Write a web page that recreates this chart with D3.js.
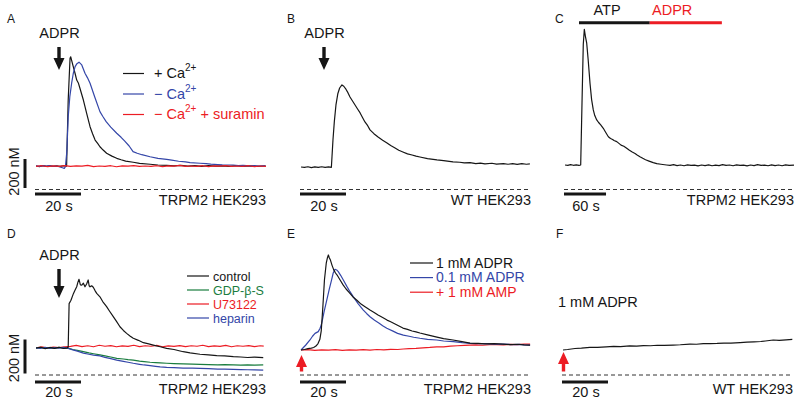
<!DOCTYPE html>
<html>
<head>
<meta charset="utf-8">
<script src="https://cdn.jsdelivr.net/npm/d3@7"></script>
<style>
body{margin:0;background:#fff;}
svg{display:block;font-family:"Liberation Sans",Arial,Helvetica,sans-serif;}
</style>
</head>
<body>
<script>
(function(){

//trace data, [time (s), Ca concentration (nM)]
var traceA_plusCa = [[0,162],[1.5,158],[3,165],[4.5,160],[6,164],[7.5,159],[9,163],[10.5,160],[12,164],[13.3,161],[14.0,617],[14.8,905],[15.1,915],[16.2,847],[17.0,800],[17.7,755],[18.4,735],[19.1,698],[20.6,617],[22.0,526],[23.5,433],[24.6,385],[25.7,341],[26.8,318],[27.8,295],[29.2,272],[30.7,250],[33,230],[35.1,215],[37,205],[39,196],[42.3,188],[45,180],[49.6,174],[53,169],[56.8,167],[60,163],[63,166],[66,161],[69,164],[72,160],[75,165],[78,161],[81,163],[84,159],[87,164],[90,160],[93,163],[96,159],[100,162]];
var traceA_minusCa = [[0,163],[1.5,160],[3,165],[4.5,161],[6,164],[7.5,160],[9,162],[10.4,155],[11.5,150],[12.3,146],[12.8,158],[13.4,260],[14.0,500],[14.7,640],[15.5,733],[16.2,800],[17,847],[17.8,868],[18.7,878],[19.9,859],[21.3,802],[22.4,770],[23.5,733],[25.5,640],[27.8,537],[29,505],[30.5,468],[32.5,430],[35.1,388],[37,360],[38.5,335],[40.5,300],[42.2,261],[44,250],[46,240],[49.6,226],[53,215],[56.8,208],[59,203],[62,195],[65,190],[67,186],[71.3,181],[74,178],[76,175],[79,172],[81,170],[85.7,169],[88,165],[90,167],[93,163],[95,165],[97,162],[99.6,164]];
var traceA_suramin = [[0,160],[2.5,164],[5,158],[7.5,163],[10,160],[12.5,165],[15,159],[17.5,163],[20,161],[22.5,166],[25,158],[27.5,162],[30,160],[32.5,164],[35,157],[37.5,163],[40,161],[42.5,165],[45,159],[47.5,162],[50,160],[52.5,164],[55,158],[57.5,163],[60,161],[62.5,166],[65,159],[67.5,162],[70,160],[72.5,164],[75,158],[77.5,163],[80,161],[82.5,165],[85,159],[87.5,162],[90,160],[92.5,164],[95,158],[97.5,162],[100,160]];

var traceB = [[0,155],[1.5,152],[3,157],[4.5,151],[6,156],[7.5,152],[9,157],[10.5,153],[12,156],[13.2,152],[13.9,342],[14.5,470],[15.2,583],[16,660],[16.8,700],[17.8,721],[18.6,712],[19.6,690],[20.4,668],[21.3,638],[22.4,610],[23.5,583],[24.6,555],[25.7,528],[26.8,495],[27.8,466],[29,440],[30,411],[31.7,385],[33.5,362],[35.5,340],[37.4,321],[39,303],[40.9,286],[42.5,271],[44.3,259],[46.3,246],[48.3,238],[50,230],[51.7,224],[55,213],[59.1,204],[62,199],[66.1,190],[69,188],[71,183],[73.5,185],[76,179],[78,182],[80,177],[83,181],[85,175],[88,179],[90,174],[92,178],[94,173],[96,178],[98,174],[99.5,177]];

var traceC = [[0,169],[4,166],[8,171],[12,167],[16,170],[20,166],[22.4,169],[24.3,600],[26.1,1000],[27.6,1105],[29,1060],[31,1009],[33,900],[35.7,733],[38,620],[40.4,549],[42.5,510],[45.3,480],[48,462],[51,445],[54.7,422],[58,395],[61.9,364],[65,352],[68,345],[70,338],[73.9,330],[77,318],[80,306],[84,298],[88.1,284],[92,270],[96,258],[100,248],[103,238],[107,226],[111,215],[115,205],[120,196],[126,185],[131,178],[137,174],[145,169],[150,166],[155,171],[160,165],[165,169],[170,164],[175,170],[180,166],[185,168],[190,163],[195,169],[200,165],[205,170],[210,164],[215,168],[220,165],[225,171],[230,166],[235,169],[240,164],[245,170],[250,166],[255,168],[260,163],[265,169],[270,165],[275,171],[280,166],[285,168],[290,164],[295,170],[300,165],[305,169],[310,164],[315,170],[320,166],[327,168]];

var traceD_control = [[0,159],[2,163],[4,155],[6,162],[8,157],[10,163],[12,156],[13.6,160],[14.0,165],[14.4,420],[15.2,440],[16.3,480],[17.0,500],[17.7,519],[18.2,545],[18.7,563],[19.3,530],[19.9,529],[20.6,540],[21.3,519],[22.0,535],[22.7,559],[23.1,525],[23.5,519],[24.2,525],[24.9,516],[25.6,498],[26.4,480],[27.1,470],[27.8,460],[29,432],[30.7,402],[32,375],[33.6,343],[35,315],[36.5,284],[38,262],[39.4,245],[41,228],[42.3,216],[44.5,204],[46.7,190],[49,183],[51,176],[54,166],[56.8,157],[60,150],[64,137],[67,130],[71.3,122],[75,118],[78.6,114],[82,112],[85.8,108],[89,106],[92,103],[95,105],[98.8,102]];
var traceD_gdp = [[0,158],[2,162],[4,156],[6,161],[8,157],[10,162],[12,157],[14,158],[16,150],[18,145],[20.6,137],[23,130],[25,125],[27.8,118],[30,113],[32.5,106],[35.1,98],[38,94],[40,90],[42.3,88],[45,82],[47,79],[49.6,75],[52,73],[54,71],[56.8,69],[60,67],[64,65],[68,64],[71.3,63],[75,61],[79,60],[82,61],[85.8,59],[89,58],[92,60],[95,58],[98.8,59]];
var traceD_u73122 = [[0,160],[2.5,165],[5,159],[7.5,164],[10,161],[12.5,166],[15,168],[17.5,174],[20,167],[22.5,172],[25,166],[27.5,175],[30,169],[32.5,173],[35,166],[37.5,171],[40,168],[42.5,175],[45,167],[47.5,172],[50,169],[52.5,174],[55,166],[57.5,171],[60,168],[62.5,173],[65,167],[67.5,172],[70,169],[72.5,175],[75,167],[77.5,171],[80,168],[82.5,174],[85,166],[87.5,172],[90,169],[92.5,173],[95,167],[97.5,172],[99,170]];
var traceD_heparin = [[0,160],[2,156],[4,163],[6,157],[8,161],[10,158],[12,162],[14,157],[16,148],[18,140],[20.6,129],[23,122],[25,117],[27.8,112],[30,104],[32.5,96],[35.1,88],[38,80],[40,75],[42.3,69],[45,63],[47,59],[49.6,55],[52,51],[54,48],[56.8,45],[60,43],[64,41],[68,40],[71.3,39],[75,37],[79,35],[82,34],[85.8,33],[89,32],[92,31],[95,30],[98.8,29]];

var traceE_1mM = [[0,147],[1.5,150],[3,155],[4.5,158],[5.5,162],[6.5,170],[7.4,185],[8.2,210],[8.8,260],[9.5,400],[10.2,560],[11,660],[11.5,690],[11.9,706],[12.3,690],[12.8,676],[13.5,645],[14.2,620],[15,600],[15.7,588],[17,559],[18.3,530],[19.6,506],[21,485],[22.6,459],[24.3,440],[26.1,417],[28,400],[30,382],[31.8,368],[33.5,353],[35.5,338],[37.4,323],[39,313],[40.9,300],[42.6,288],[44.3,276],[46.3,268],[48.3,259],[50,254],[51.7,247],[55,236],[59.1,223],[62,214],[66.1,206],[70,196],[73.5,188],[77,186],[80,183],[84,185],[87.8,182],[91,179],[94,181],[97,177],[99.6,176]];
var traceE_01mM = [[0,147],[2,175],[3.9,206],[5,228],[6.1,245],[7.5,255],[8.3,275],[9,304],[10,370],[11.2,441],[12.3,505],[13.3,559],[14,600],[14.8,622],[15.5,618],[16.2,608],[17.3,585],[18.4,559],[20,520],[21.3,490],[22.7,461],[24.8,420],[27.1,382],[28.5,362],[30,343],[32,322],[34,305],[35.5,290],[37.3,275],[40,258],[42,245],[44.5,235],[47,228],[49,222],[51.7,216],[55,210],[59,206],[62,200],[66.2,196],[70,190],[73.5,186],[77,184],[80,185],[84,182],[88,182],[92,179],[95,180],[97,177],[99.6,176]];
var traceE_amp = [[0,147],[3,149],[6,145],[9,148],[12,146],[15,149],[18,145],[21,148],[24,146],[27,149],[30,146],[33,150],[36,148],[39,151],[42,150],[44.5,153],[47,155],[50,157],[53,160],[56,162],[59,166],[62,165],[65,170],[68,172],[71,174],[73.5,176],[76,177],[79,175],[82,178],[85,179],[88,177],[91,180],[94,179],[97,182],[99.6,182]];

var traceF = [[0,147],[2,150],[5.2,156],[8,158],[11.7,162],[15,163],[18.8,166],[22,168],[25,167],[29,171],[32,170],[35,173],[38,172],[41,175],[44,174],[47.9,176],[51,178],[55.2,182],[58,181],[61,184],[64,185],[67,186],[70,188],[73,187],[77,190],[80,193],[83,195],[86,197],[88,200],[91.4,206],[94,204],[97,207],[99.7,210]];

//legend labels (text segments alternate normal / superscript)
var legendA = [["+ Ca","2+"],["\u2212 Ca","2+"],["\u2212 Ca","2+"," + suramin"]];
var legendD = [["control"],["GDP-\u03b2-S"],["U73122"],["heparin"]];
var legendE = [["1 mM ADPR"],["0.1 mM ADPR"],["+ 1 mM AMP"]];

//stimulus bars in C: [label, start s, end s, label at s]
var stimC = [["ATP",20,121,60],["ADPR",121,224,153]];

var cellLines = ["TRPM2 HEK293","WT HEK293","TRPM2 HEK293","TRPM2 HEK293","TRPM2 HEK293","WT HEK293"];
var scaleNM = 200;
var scaleSec = [20,20,60,20,20,20];

var black = "#161616", blue = "#3446a8", red = "#ec1c24", green = "#1a7d3f";
var fs = "14.5px";

var rows = [
  {zeroY:189.5, px200:29, letterY:23, cellY:205, barY:194, barTextY:210.5, nmY:171.5, arrowTop:47, arrowTip:70, adprY:38},
  {zeroY:375, px200:34, letterY:238, cellY:394, barY:382, barTextY:397, nmY:358, arrowTop:269, arrowTip:298, adprY:260}
];

var panels = [
  {letter:"A", letterX:7, row:0, x0:36, x1:266, tEnd:100, nmBar:true, stim:"down",
   traces:[[traceA_plusCa,black],[traceA_minusCa,blue],[traceA_suramin,red]],
   legend:{items:legendA, colors:[black,blue,red], lx0:123, lx1:144, tx:154, y0:73.5, dy:20.5, size:fs}},
  {letter:"B", letterX:287, row:0, x0:301, x1:531, tEnd:100, stim:"down",
   traces:[[traceB,black]]},
  {letter:"C", letterX:555, row:0, x0:565, x1:794, tEnd:327, stim:"bars",
   traces:[[traceC,black]]},
  {letter:"D", letterX:7, row:1, x0:36, x1:266, tEnd:100, nmBar:true, stim:"down",
   traces:[[traceD_u73122,red],[traceD_gdp,green],[traceD_heparin,blue],[traceD_control,black]],
   legend:{items:legendD, colors:[black,green,red,blue], lx0:187, lx1:209, tx:213, y0:276, dy:14, size:"12.5px"}},
  {letter:"E", letterX:287, row:1, x0:301, x1:531, tEnd:100, stim:"up",
   traces:[[traceE_amp,red],[traceE_01mM,blue],[traceE_1mM,black]],
   legend:{items:legendE, colors:[black,blue,red], lx0:410, lx1:433, tx:436, y0:263, dy:14.6, size:"14px"}},
  {letter:"F", letterX:556, row:1, x0:563, x1:793, tEnd:100, stim:"up", stimText:"1 mM ADPR",
   traces:[[traceF,black]]}
];

var svg = d3.select("body").append("svg")
    .attr("width", 800)
    .attr("height", 406);

panels.forEach(function(p, i){
  var r = rows[p.row];
  var g = svg.append("g");

  var x = d3.scaleLinear().domain([0, p.tEnd]).range([p.x0, p.x1]);
  var y = d3.scaleLinear().domain([0, scaleNM]).range([r.zeroY, r.zeroY - r.px200]);

  //panel letter
  g.append("text").attr("x", p.letterX).attr("y", r.letterY)
      .style("font-size","12px").attr("fill", black).text(p.letter);

  //zero line
  g.append("line")
      .attr("x1", x(0) - 1).attr("x2", x(p.tEnd))
      .attr("y1", y(0)).attr("y2", y(0))
      .attr("stroke", "#333").attr("stroke-width", 1)
      .attr("stroke-dasharray", "4,3");

  //traces
  var line = d3.line()
      .x(function(d){ return x(d[0]); })
      .y(function(d){ return y(d[1]); });

  p.traces.forEach(function(t){
    g.append("path")
        .attr("d", line(t[0]))
        .attr("fill", "none")
        .attr("stroke", t[1])
        .attr("stroke-width", 1.2)
        .attr("stroke-linejoin", "round");
  });

  //time scale bar
  var bx0 = x(0) - 1, bx1 = x(scaleSec[i]) - 1;
  g.append("line")
      .attr("x1", bx0).attr("x2", bx1)
      .attr("y1", r.barY).attr("y2", r.barY)
      .attr("stroke", black).attr("stroke-width", 3);
  g.append("text")
      .attr("x", (bx0 + bx1) / 2 + 1).attr("y", r.barTextY)
      .attr("text-anchor", "middle").style("font-size", fs).attr("fill", black)
      .text(scaleSec[i] + " s");

  //cell line label
  g.append("text")
      .attr("x", x(p.tEnd)).attr("y", r.cellY)
      .attr("text-anchor", "end").style("font-size", fs).attr("fill", black)
      .text(cellLines[i]);

  //concentration scale bar
  if (p.nmBar){
    g.append("line")
        .attr("x1", 25).attr("x2", 25)
        .attr("y1", y(0) - 1.5).attr("y2", y(scaleNM) - 1.5)
        .attr("stroke", black).attr("stroke-width", 3);
    g.append("text")
        .attr("transform", "translate(18.5," + r.nmY + ") rotate(-90)")
        .attr("text-anchor", "middle").style("font-size", fs).attr("fill", black)
        .text(scaleNM + " nM");
  }

  //stimulus markers
  if (p.stim == "down"){
    var ax = x(10);
    g.append("path")
        .attr("d", arrowPath(ax, r.arrowTop, r.arrowTip))
        .attr("fill", black);
    g.append("text")
        .attr("x", ax + 0.5).attr("y", r.adprY)
        .attr("text-anchor", "middle").style("font-size", fs).attr("fill", black)
        .text("ADPR");
  } else if (p.stim == "up"){
    var ux = x(0) + 0.5;
    var tip = p.stimText ? 352 : 355;
    g.append("path")
        .attr("d", arrowPath(ux, 371.5, tip))
        .attr("fill", red);
    if (p.stimText){
      g.append("text")
          .attr("x", 558).attr("y", 306.5)
          .style("font-size", fs).attr("fill", black)
          .text(p.stimText);
    }
  } else if (p.stim == "bars"){
    stimC.forEach(function(s, k){
      var c = k == 0 ? black : red;
      g.append("line")
          .attr("x1", x(s[1])).attr("x2", x(s[2]))
          .attr("y1", 22.7).attr("y2", 22.7)
          .attr("stroke", c).attr("stroke-width", 3);
      g.append("text")
          .attr("x", x(s[3])).attr("y", 15)
          .attr("text-anchor", "middle").style("font-size", fs).attr("fill", c)
          .text(s[0]);
    });
  }

  //legend
  if (p.legend){
    var L = p.legend;
    L.items.forEach(function(segs, k){
      var ly = L.y0 + k * L.dy;
      g.append("line")
          .attr("x1", L.lx0).attr("x2", L.lx1)
          .attr("y1", ly).attr("y2", ly)
          .attr("stroke", L.colors[k]).attr("stroke-width", 1.2);
      var t = g.append("text")
          .attr("x", L.tx).attr("y", ly + 4.5)
          .attr("fill", L.colors[k])
          .style("font-size", L.size)
          .style("white-space", "pre");
      segs.forEach(function(s, j){
        var sup = j % 2 == 1;
        t.append("tspan")
            .attr("dy", sup ? -7 : (j > 0 ? 7 : 0))
            .style("font-size", sup ? "10px" : L.size)
            .text(s);
      });
    });
  }
});

//arrow shape from a base point to a tip (works both up and down)
function arrowPath(x, base, tip){
  var sw = 3.4, hw = 11, hh = 12;
  var dir = tip > base ? 1 : -1;
  var neck = tip - dir * hh;
  var pts = [
    [x - sw/2, base], [x + sw/2, base], [x + sw/2, neck], [x + hw/2, neck],
    [x, tip], [x - hw/2, neck], [x - sw/2, neck]
  ];
  return d3.line()(pts) + "Z";
}

})();
</script>
</body>
</html>
